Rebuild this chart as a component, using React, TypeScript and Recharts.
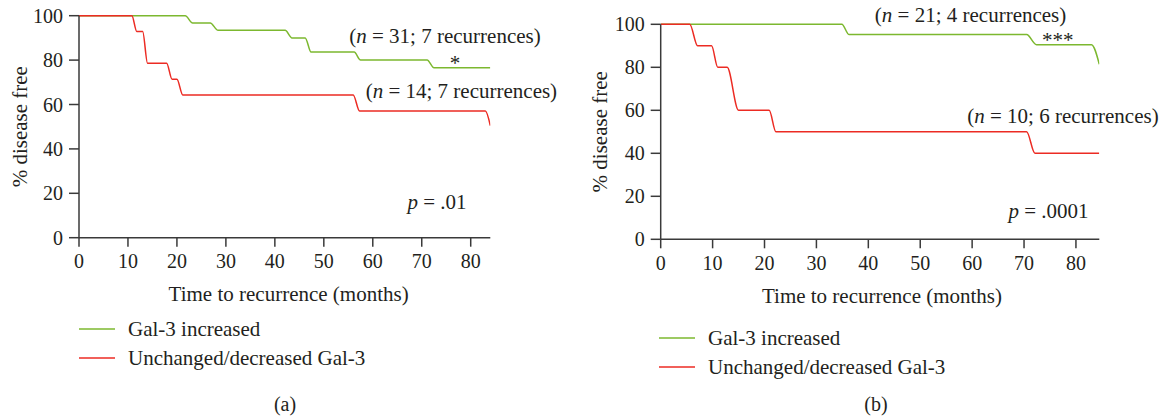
import React from 'react';
import { LineChart, Line, XAxis, YAxis, ReferenceDot, Legend, Label } from 'recharts';

// ---------- data ----------
const xTicks = [0, 10, 20, 30, 40, 50, 60, 70, 80];
const yTicks = [0, 20, 40, 60, 80, 100];
const seriesNames = ['Gal-3 increased', 'Unchanged/decreased Gal-3'];

// panel (a)
const aIncT = [0, 21.7, 23.2, 26.8, 28.4, 42.1, 43.5, 46.2, 47.4, 56.2, 57.5, 71.1, 72.5, 84];
const aIncV = [100, 100, 96.7, 96.7, 93.4, 93.4, 90.0, 90.0, 83.6, 83.6, 80.0, 80.0, 76.5, 76.5];
const aDecT = [0, 10.8, 11.8, 13, 14, 17.9, 19, 20, 21.2, 56, 57.3, 83, 84];
const aDecV = [100, 100, 92.9, 92.9, 78.6, 78.6, 71.4, 71.4, 64.3, 64.3, 57.1, 57.1, 50.5];

// panel (b)
const bIncT = [0, 34.9, 36.3, 70.5, 72.4, 83, 84.5];
const bIncV = [100, 100, 95.2, 95.2, 90.5, 90.5, 81.4];
const bDecT = [0, 5.6, 7.1, 9.8, 11, 12.8, 15, 20.9, 22.2, 70.5, 72.1, 84.5];
const bDecV = [100, 100, 90, 90, 80, 80, 60, 60, 50, 50, 40, 40];

const build = (ts: number[], vs: number[]) => ts.map((t, i) => ({ t, v: vs[i] }));

// ---------- styles ----------
const FONT = "'Liberation Serif', 'Times New Roman', serif";
const TEXT = '#231f20';
const AXIS = '#3a3a3a';
const GREEN = '#7cb82f';
const RED = '#ec2b23';

type Part = { s: string; i?: boolean };

const AnnText = (props: any) => {
  const { viewBox, parts, size } = props;
  const cx = viewBox.x + viewBox.width / 2;
  const cy = viewBox.y + viewBox.height / 2;
  return (
    <text x={cx} y={cy} textAnchor="middle" fontFamily={FONT} fontSize={size || 21} fill={TEXT}>
      {parts.map((p: Part, k: number) => (
        <tspan key={k} fontStyle={p.i ? 'italic' : 'normal'}>{p.s}</tspan>
      ))}
    </text>
  );
};

const XTitle = (props: any) => {
  const { viewBox, dx } = props;
  return (
    <text x={viewBox.x + viewBox.width / 2 + (dx || 0)} y={viewBox.y + 63.5} textAnchor="middle"
      fontFamily={FONT} fontSize={21} fill={TEXT}>
      Time to recurrence (months)
    </text>
  );
};

const YTitle = (props: any) => {
  const { viewBox } = props;
  const x = 20;
  const y = viewBox.y + viewBox.height / 2;
  return (
    <text x={x} y={y} transform={`rotate(-90 ${x} ${y})`} textAnchor="middle" dominantBaseline="central"
      fontFamily={FONT} fontSize={21} fill={TEXT}>
      % disease free
    </text>
  );
};

const LegendBox = (props: any) => {
  const { payload } = props;
  return (
    <svg width={420} height={64} style={{ display: 'block' }}>
      {(payload || []).map((p: any, i: number) => (
        <g key={i}>
          <line x1={0} x2={36} y1={15 + i * 29} y2={15 + i * 29} stroke={p.color} strokeWidth={1.5} />
          <text x={49} y={15 + i * 29 + 7} fontFamily={FONT} fontSize={21} fill={TEXT}>{p.value}</text>
        </g>
      ))}
    </svg>
  );
};

type Ann = { t: number; v: number; parts: Part[] };

const Panel = (cfg: {
  left: number; width: number; margin: any; xMax: number;
  inc: any[]; dec: any[]; anns: Ann[]; legendTop: number; titleDx: number;
}) => (
  <div style={{ position: 'absolute', left: cfg.left, top: 0 }}>
    <LineChart width={cfg.width} height={417} margin={cfg.margin}>
      <XAxis dataKey="t" type="number" domain={[0, cfg.xMax]} ticks={xTicks} allowDataOverflow
        height={70} tickSize={9} tickMargin={7}
        axisLine={{ stroke: AXIS, strokeWidth: 1.5 }} tickLine={{ stroke: AXIS, strokeWidth: 1.5 }}
        tick={{ fill: TEXT, fontSize: 20, fontFamily: FONT }}>
        <Label content={<XTitle dx={cfg.titleDx} />} />
      </XAxis>
      <YAxis dataKey="v" type="number" domain={[0, 100]} ticks={yTicks} width={60}
        tickSize={10} tickMargin={6}
        axisLine={{ stroke: AXIS, strokeWidth: 1.5 }} tickLine={{ stroke: AXIS, strokeWidth: 1.5 }}
        tick={{ fill: TEXT, fontSize: 20, fontFamily: FONT }}>
        <Label content={<YTitle />} />
      </YAxis>
      <Line data={cfg.inc} dataKey="v" name={seriesNames[0]} type="monotone" stroke={GREEN}
        strokeWidth={1.5} dot={false} isAnimationActive={false} />
      <Line data={cfg.dec} dataKey="v" name={seriesNames[1]} type="monotone" stroke={RED}
        strokeWidth={1.5} dot={false} isAnimationActive={false} />
      {cfg.anns.map((a, k) => (
        <ReferenceDot key={k} x={a.t} y={a.v} r={0} fill="none" stroke="none" ifOverflow="visible"
          label={<AnnText parts={a.parts} />} />
      ))}
      <Legend layout="vertical" align="center" verticalAlign="middle" content={<LegendBox />}
        wrapperStyle={{ left: 79, top: cfg.legendTop, width: 420, height: 64 }} />
    </LineChart>
  </div>
);

const annsA: Ann[] = [
  { t: 74.75, v: 87.5, parts: [{ s: '(' }, { s: 'n', i: true }, { s: ' = 31; 7 recurrences)' }] },
  { t: 76.8, v: 75.5, parts: [{ s: '*' }] },
  { t: 78.1, v: 62.9, parts: [{ s: '(' }, { s: 'n', i: true }, { s: ' = 14; 7 recurrences)' }] },
  { t: 73.1, v: 12.9, parts: [{ s: 'p', i: true }, { s: ' = .01' }] },
];
const annsB: Ann[] = [
  { t: 59.7, v: 101.3, parts: [{ s: '(' }, { s: 'n', i: true }, { s: ' = 21; 4 recurrences)' }] },
  { t: 76.5, v: 89.5, parts: [{ s: '***' }] },
  { t: 77.5, v: 54.3, parts: [{ s: '(' }, { s: 'n', i: true }, { s: ' = 10; 6 recurrences)' }] },
  { t: 74.7, v: 9.7, parts: [{ s: 'p', i: true }, { s: ' = .0001' }] },
];

export default function App() {
  return (
    <div style={{ position: 'absolute', left: 0, top: 0, width: 1163, height: 417, background: '#fff', overflow: 'hidden' }}>
      <Panel left={0} width={580} xMax={84}
        margin={{ top: 15.7, right: 89.7, left: 19, bottom: 109.3 }}
        inc={build(aIncT, aIncV)} dec={build(aDecT, aDecV)} anns={annsA} legendTop={314} titleDx={4} />
      <Panel left={580} width={583} xMax={84.5}
        margin={{ top: 24.3, right: 63.7, left: 20.7, bottom: 107.7 }}
        inc={build(bIncT, bIncV)} dec={build(bDecT, bDecV)} anns={annsB} legendTop={323} titleDx={2} />
      <div style={{ position: 'absolute', left: 235, width: 100, top: 393, textAlign: 'center', fontFamily: FONT, fontSize: 20, color: TEXT }}>(a)</div>
      <div style={{ position: 'absolute', left: 826, width: 100, top: 393, textAlign: 'center', fontFamily: FONT, fontSize: 20, color: TEXT }}>(b)</div>
    </div>
  );
}
